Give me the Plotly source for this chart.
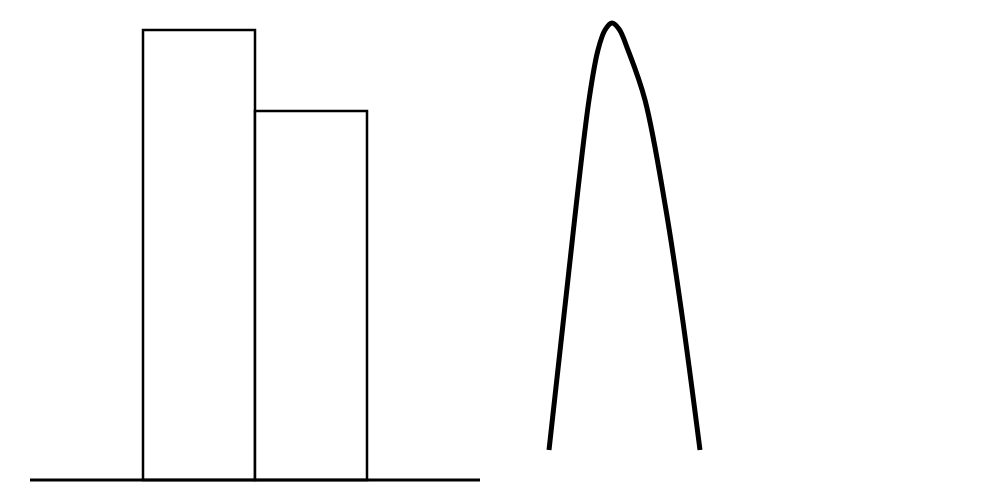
import plotly.graph_objects as go

# Bars (left panel)
bar_centers = [199, 311]
bar_widths = [112, 112]
bar_heights = [450, 369]

# Baseline extent
baseline_x = [30, 480]
baseline_y = [0, 0]

# Curve (right panel)
curve_x = [549, 564, 589, 598, 605, 612, 619, 628, 645, 666, 682, 700]
curve_y = [30, 165, 380, 430, 450, 457, 451, 430, 380, 270, 165, 30]

fig = go.Figure()
fig.add_trace(go.Scatter(x=baseline_x, y=baseline_y, mode="lines",
                         line=dict(color="black", width=3), hoverinfo="skip"))
fig.add_trace(go.Bar(x=bar_centers, y=bar_heights, width=bar_widths,
                     marker=dict(color="white", line=dict(color="black", width=2.5))))
fig.add_trace(go.Scatter(x=curve_x, y=curve_y, mode="lines",
                         line=dict(color="black", width=5, shape="spline", smoothing=1.0)))

fig.update_layout(
    width=1000, height=500,
    margin=dict(l=0, r=0, t=0, b=0),
    paper_bgcolor="white", plot_bgcolor="white",
    showlegend=False,
    xaxis=dict(range=[0, 1000], visible=False, showgrid=False, zeroline=False),
    yaxis=dict(range=[-20, 480], visible=False, showgrid=False, zeroline=False),
)
fig.write_html("out.html")
